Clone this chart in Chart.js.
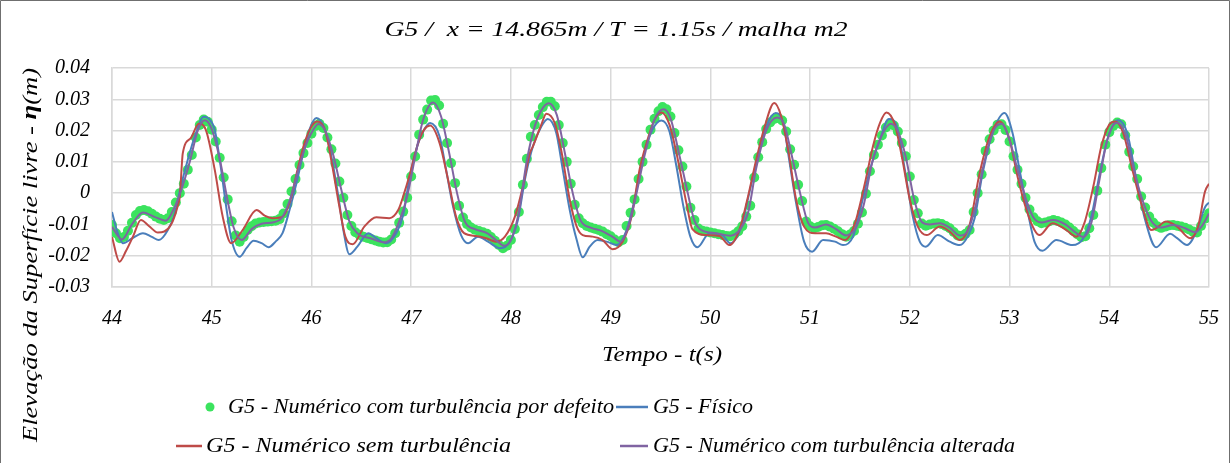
<!DOCTYPE html>
<html><head><meta charset="utf-8">
<script src="https://cdn.jsdelivr.net/npm/chart.js@4.4.1/dist/chart.umd.min.js"></script>
<style>html,body{margin:0;padding:0;background:#fff;}#wrap{position:relative;width:1231px;height:463px;}</style>
</head><body><div id="wrap"><canvas id="c" width="1231" height="463"></canvas></div>
<script>
const titleText = 'G5 /  x = 14.865m / T = 1.15s / malha m2';
const xTitle = 'Tempo - t(s)';
const yTitleParts = ['Elevação da Superfície livre - ', 'η', '(m)'];
const seriesNames = ['G5 - Numérico com turbulência por defeito', 'G5 - Físico', 'G5 - Numérico sem turbulência', 'G5 - Numérico com turbulência alterada'];
const xTicks = [44,45,46,47,48,49,50,51,52,53,54,55];
const yTicks = [0.04,0.03,0.02,0.01,0,-0.01,-0.02,-0.03];
const yTickLabels = ['0.04','0.03','0.02','0.01','0','-0.01','-0.02','-0.03'];

// Numérico com turbulência por defeito (markers, sampled every 0.04 s from 44 s)
const dotStart = 44, dotStep = 0.04;
const defeito = [
-0.0102,-0.0128,-0.0144,-0.0140,-0.0120,-0.0095,-0.0070,-0.0057,-0.0054,-0.0058,-0.0066,-0.0075,-0.0082,-0.0086,-0.0080,-0.0060,-0.0030,0.0000,0.0030,0.0075,0.0122,0.0178,0.0218,0.0235,0.0228,
0.0203,0.0165,0.0113,0.0050,-0.0020,-0.0090,-0.0135,-0.0155,-0.0140,-0.0118,-0.0106,-0.0097,-0.0094,-0.0092,-0.0091,-0.0090,-0.0088,-0.0083,-0.0065,-0.0035,0.0005,0.0045,0.0090,0.0128,0.0160,
0.0190,0.0215,0.0222,0.0208,0.0178,0.0140,0.0095,0.0037,-0.0015,-0.0070,-0.0105,-0.0125,-0.0133,-0.0139,-0.0143,-0.0147,-0.0151,-0.0155,-0.0158,-0.0157,-0.0148,-0.0128,-0.0095,-0.0059,-0.0015,
0.0053,0.0117,0.0187,0.0235,0.0267,0.0296,0.0298,0.0280,0.0222,0.0160,0.0096,0.0032,-0.0040,-0.0078,-0.0099,-0.0110,-0.0117,-0.0121,-0.0125,-0.0130,-0.0140,-0.0152,-0.0166,-0.0176,-0.0168,
-0.0150,-0.0115,-0.0060,0.0027,0.0110,0.0180,0.0218,0.0250,0.0275,0.0292,0.0292,0.0278,0.0218,0.0160,0.0100,0.0030,-0.0037,-0.0080,-0.0096,-0.0105,-0.0110,-0.0114,-0.0118,-0.0123,-0.0131,
-0.0138,-0.0148,-0.0157,-0.0150,-0.0105,-0.0063,-0.0020,0.0045,0.0100,0.0155,0.0203,0.0238,0.0262,0.0275,0.0268,0.0245,0.0192,0.0137,0.0085,0.0021,-0.0047,-0.0086,-0.0113,-0.0120,-0.0123,
-0.0126,-0.0128,-0.0131,-0.0134,-0.0137,-0.0138,-0.0132,-0.0122,-0.0106,-0.0075,-0.0040,0.0050,0.0115,0.0163,0.0205,0.0226,0.0237,0.0240,0.0232,0.0197,0.0140,0.0091,0.0027,-0.0025,-0.0091,
-0.0106,-0.0112,-0.0108,-0.0103,-0.0102,-0.0107,-0.0114,-0.0122,-0.0131,-0.0139,-0.0132,-0.0121,-0.0098,-0.0062,-0.0002,0.0070,0.0122,0.0155,0.0184,0.0210,0.0223,0.0216,0.0197,0.0160,0.0118,
0.0053,-0.0022,-0.0064,-0.0097,-0.0104,-0.0100,-0.0097,-0.0096,-0.0099,-0.0105,-0.0112,-0.0124,-0.0135,-0.0137,-0.0130,-0.0118,-0.0060,0.0000,0.0060,0.0135,0.0172,0.0200,0.0219,0.0220,0.0202,
0.0165,0.0118,0.0075,0.0030,-0.0015,-0.0052,-0.0077,-0.0090,-0.0096,-0.0094,-0.0090,-0.0086,-0.0089,-0.0094,-0.0100,-0.0110,-0.0121,-0.0131,-0.0141,-0.0138,-0.0112,-0.0070,0.0008,0.0080,0.0155,
0.0195,0.0215,0.0226,0.0220,0.0185,0.0132,0.0085,0.0045,-0.0011,-0.0046,-0.0075,-0.0094,-0.0106,-0.0111,-0.0107,-0.0103,-0.0102,-0.0104,-0.0107,-0.0111,-0.0116,-0.0123,-0.0126,-0.0105,-0.0082,
-0.0064];

// Físico
const fisicoT = [44.00,44.05,44.11,44.20,44.31,44.40,44.47,44.56,44.63,44.69,44.76,44.83,44.92,44.97,45.03,45.09,45.145,45.195,45.28,45.35,45.42,45.50,45.57,45.64,45.71,45.78,45.85,45.91,45.98,46.05,46.13,46.20,46.27,46.32,46.38,46.46,46.57,46.65,46.75,46.85,46.92,46.98,47.05,47.12,47.19,47.285,47.35,47.42,47.50,47.57,47.67,47.77,47.89,47.99,48.07,48.14,48.22,48.305,48.37,48.455,48.52,48.59,48.66,48.72,48.79,48.87,48.96,49.06,49.16,49.24,49.32,49.42,49.51,49.59,49.66,49.73,49.80,49.87,49.99,50.12,50.20,50.31,50.39,50.475,50.56,50.655,50.73,50.79,50.86,50.94,51.02,51.13,51.25,51.33,51.43,51.51,51.60,51.70,51.79,51.87,51.95,52.03,52.10,52.16,52.28,52.40,52.50,52.58,52.65,52.73,52.83,52.95,53.03,53.10,53.185,53.25,53.33,53.47,53.63,53.74,53.82,53.905,53.99,54.09,54.18,54.26,54.36,54.47,54.61,54.68,54.78,54.88,54.96,55.00];
const fisicoV = [-0.0060,-0.0120,-0.0160,-0.0145,-0.0128,-0.0140,-0.0150,-0.0118,-0.0064,0.0021,0.0107,0.0181,0.0244,0.0238,0.0203,0.0085,-0.0043,-0.0144,-0.0203,-0.0175,-0.0152,-0.0160,-0.0173,-0.0155,-0.0128,-0.0054,0.0032,0.0117,0.0203,0.0240,0.0208,0.0117,-0.0011,-0.0118,-0.0195,-0.0171,-0.0128,-0.0144,-0.0160,-0.0128,-0.0070,0.0043,0.0139,0.0197,0.0224,0.0181,0.0075,-0.0043,-0.0134,-0.0160,-0.0139,-0.0155,-0.0176,-0.0155,-0.0086,0.0043,0.0149,0.0213,0.0237,0.0192,0.0075,-0.0054,-0.0150,-0.0205,-0.0171,-0.0150,-0.0155,-0.0166,-0.0118,-0.0021,0.0107,0.0203,0.0232,0.0197,0.0085,-0.0043,-0.0140,-0.0173,-0.0128,-0.0134,-0.0160,-0.0107,0.0000,0.0117,0.0213,0.0256,0.0224,0.0107,-0.0032,-0.0155,-0.0187,-0.0150,-0.0155,-0.0166,-0.0139,-0.0043,0.0075,0.0171,0.0237,0.0213,0.0075,-0.0075,-0.0155,-0.0171,-0.0134,-0.0155,-0.0166,-0.0139,-0.0080,0.0064,0.0192,0.0256,0.0192,0.0075,-0.0064,-0.0155,-0.0184,-0.0150,-0.0166,-0.0144,-0.0075,0.0064,0.0181,0.0233,0.0192,0.0064,-0.0086,-0.0173,-0.0130,-0.0144,-0.0166,-0.0118,-0.0045,-0.0030];

// Numérico sem turbulência
const semT = [44.00,44.075,44.14,44.21,44.29,44.37,44.46,44.59,44.66,44.68,44.71,44.79,44.87,44.94,45.03,45.11,45.195,45.31,45.45,45.53,45.61,45.71,45.79,45.86,45.93,46.00,46.06,46.14,46.21,46.28,46.34,46.415,46.53,46.65,46.78,46.87,46.93,46.98,47.07,47.13,47.19,47.285,47.37,47.45,47.53,47.65,47.75,47.85,47.94,48.04,48.12,48.19,48.22,48.305,48.355,48.44,48.51,48.59,48.66,48.72,48.82,48.92,49.02,49.12,49.21,49.29,49.36,49.44,49.51,49.59,49.66,49.76,49.82,49.96,50.09,50.19,50.29,50.37,50.46,50.545,50.64,50.71,50.78,50.86,50.94,51.05,51.16,51.26,51.35,51.45,51.55,51.63,51.70,51.765,51.85,51.92,52.00,52.08,52.17,52.30,52.40,52.50,52.60,52.70,52.80,52.90,53.00,53.08,53.17,53.25,53.30,53.43,53.57,53.67,53.75,53.84,53.92,54.00,54.06,54.14,54.24,54.34,54.42,54.47,54.57,54.68,54.81,54.89,54.96,55.00];
const semV = [-0.0140,-0.0219,-0.0185,-0.0139,-0.0086,-0.0105,-0.0126,-0.0102,-0.0040,-0.0011,0.0128,0.0176,0.0222,0.0203,0.0075,-0.0075,-0.0160,-0.0118,-0.0054,-0.0072,-0.0080,-0.0075,-0.0021,0.0075,0.0160,0.0213,0.0229,0.0197,0.0085,-0.0043,-0.0139,-0.0163,-0.0107,-0.0077,-0.0080,-0.0054,0.0000,0.0053,0.0160,0.0203,0.0216,0.0160,0.0043,-0.0075,-0.0128,-0.0137,-0.0144,-0.0155,-0.0139,-0.0075,0.0021,0.0128,0.0149,0.0219,0.0254,0.0224,0.0128,-0.0021,-0.0107,-0.0134,-0.0139,-0.0150,-0.0179,-0.0155,-0.0075,0.0075,0.0160,0.0235,0.0258,0.0219,0.0128,-0.0032,-0.0115,-0.0134,-0.0137,-0.0166,-0.0118,-0.0021,0.0107,0.0213,0.0288,0.0246,0.0139,-0.0021,-0.0107,-0.0128,-0.0128,-0.0139,-0.0150,-0.0096,0.0032,0.0149,0.0224,0.0258,0.0219,0.0117,-0.0021,-0.0107,-0.0134,-0.0107,-0.0123,-0.0150,-0.0100,0.0064,0.0181,0.0229,0.0171,0.0053,-0.0054,-0.0118,-0.0134,-0.0096,-0.0118,-0.0139,-0.0096,0.0021,0.0149,0.0219,0.0229,0.0192,0.0064,-0.0054,-0.0118,-0.0112,-0.0091,-0.0107,-0.0144,-0.0107,0.0005,0.0030];

// Numérico com turbulência alterada
const altT = [44.00,44.10,44.20,44.31,44.42,44.54,44.62,44.70,44.78,44.86,44.93,45.00,45.08,45.16,45.22,45.30,45.40,45.50,45.62,45.70,45.78,45.86,45.94,46.00,46.07,46.14,46.22,46.30,46.38,46.46,46.60,46.72,46.80,46.88,46.96,47.04,47.12,47.22,47.30,47.38,47.46,47.54,47.64,47.76,47.85,47.93,48.00,48.08,48.16,48.24,48.30,48.38,48.46,48.54,48.62,48.70,48.80,48.92,49.02,49.10,49.18,49.26,49.34,49.44,49.53,49.60,49.68,49.76,49.84,49.92,50.06,50.20,50.30,50.38,50.46,50.56,50.67,50.74,50.82,50.90,50.98,51.05,51.16,51.26,51.36,51.46,51.54,51.62,51.72,51.81,51.88,51.96,52.04,52.12,52.20,52.30,52.40,52.50,52.58,52.66,52.74,52.84,52.92,53.00,53.08,53.16,53.24,53.32,53.44,53.56,53.66,53.74,53.82,53.90,53.98,54.08,54.16,54.24,54.32,54.42,54.52,54.64,54.76,54.86,54.94,55.00];
const altV = [-0.0108,-0.0148,-0.0100,-0.0062,-0.0075,-0.0088,-0.0050,0.0015,0.0100,0.0200,0.0233,0.0205,0.0110,-0.0025,-0.0110,-0.0150,-0.0115,-0.0098,-0.0093,-0.0080,-0.0025,0.0065,0.0150,0.0192,0.0221,0.0198,0.0120,0.0010,-0.0090,-0.0128,-0.0145,-0.0157,-0.0145,-0.0090,-0.0010,0.0117,0.0235,0.0290,0.0245,0.0130,0.0000,-0.0092,-0.0115,-0.0128,-0.0150,-0.0168,-0.0150,-0.0060,0.0105,0.0215,0.0262,0.0287,0.0250,0.0130,0.0000,-0.0088,-0.0110,-0.0122,-0.0140,-0.0155,-0.0105,0.0000,0.0120,0.0235,0.0268,0.0240,0.0135,0.0020,-0.0088,-0.0120,-0.0128,-0.0136,-0.0115,-0.0060,0.0080,0.0200,0.0242,0.0220,0.0115,0.0000,-0.0095,-0.0110,-0.0100,-0.0115,-0.0135,-0.0110,-0.0035,0.0095,0.0185,0.0222,0.0198,0.0115,-0.0015,-0.0092,-0.0100,-0.0096,-0.0110,-0.0135,-0.0120,-0.0040,0.0090,0.0200,0.0222,0.0170,0.0075,-0.0015,-0.0078,-0.0094,-0.0086,-0.0100,-0.0125,-0.0140,-0.0095,0.0040,0.0170,0.0225,0.0190,0.0085,-0.0010,-0.0088,-0.0110,-0.0102,-0.0112,-0.0125,-0.0100,-0.0065];

const colors = {dots:'#3be35e', fisico:'#4a7ebb', sem:'#be4b48', alt:'#8064a2', grid:'#d9d9d9'};
const serif = "'Liberation Serif','DejaVu Serif',serif";

const pair = (ts, vs) => ts.map((t, i) => ({x: t, y: vs[i]}));
const dotData = defeito.map((v, i) => ({x: dotStart + i * dotStep, y: v}));

// draw text stretched horizontally to a target width (reference font is wider)
function wideText(ctx, text, x, y, targetW, align) {
  const w = ctx.measureText(text).width;
  const s = targetW / w;
  ctx.save();
  ctx.translate(x, y);
  ctx.scale(s, 1);
  ctx.textAlign = align;
  ctx.fillText(text, 0, 0);
  ctx.restore();
}

const decor = {
  id: 'decor',
  afterDraw(chart) {
    const ctx = chart.ctx;
    ctx.save();
    // outer frame
    ctx.strokeStyle = '#6f6f6f'; ctx.lineWidth = 1;
    ctx.beginPath(); ctx.moveTo(0.5, 470); ctx.lineTo(0.5, 0.5); ctx.lineTo(1229.5, 0.5); ctx.lineTo(1229.5, 470); ctx.stroke();
    ctx.fillStyle = '#000';
    ctx.textBaseline = 'middle';
    // title
    ctx.font = 'italic 22px ' + serif;
    wideText(ctx, titleText, 616, 30, 463, 'center');
    // y title
    ctx.save();
    ctx.translate(31, 255);
    ctx.rotate(-Math.PI / 2);
    const fN = 'italic 21px ' + serif, fB = 'italic bold 21px ' + serif;
    ctx.font = fN; const w0 = ctx.measureText(yTitleParts[0]).width, w2 = ctx.measureText(yTitleParts[2]).width;
    ctx.font = fB; const w1 = ctx.measureText(yTitleParts[1]).width;
    const tot = w0 + w1 + w2, sc = 374 / tot;
    ctx.scale(sc, 1);
    let x = -tot / 2;
    ctx.textAlign = 'left';
    ctx.font = fN; ctx.fillText(yTitleParts[0], x, 0); x += w0;
    ctx.font = fB; ctx.fillText(yTitleParts[1], x, 0); x += w1;
    ctx.font = fN; ctx.fillText(yTitleParts[2], x, 0);
    ctx.restore();
    // x title
    ctx.font = 'italic 21px ' + serif;
    wideText(ctx, xTitle, 662, 355, 120, 'center');
    // legend
    ctx.font = 'italic 20px ' + serif;
    ctx.fillStyle = colors.dots; ctx.beginPath(); ctx.arc(210, 407, 4.5, 0, Math.PI * 2); ctx.fill();
    ctx.fillStyle = '#000';
    wideText(ctx, seriesNames[0], 228, 408, 386, 'left');
    const seg = (x1, x2, y, c) => { ctx.strokeStyle = c; ctx.lineWidth = 2.5; ctx.beginPath(); ctx.moveTo(x1, y); ctx.lineTo(x2, y); ctx.stroke(); };
    seg(616, 648, 407, colors.fisico); wideText(ctx, seriesNames[1], 653, 408, 100, 'left');
    seg(176, 202, 446, colors.sem); wideText(ctx, seriesNames[2], 206, 447, 305, 'left');
    seg(620, 648, 446, colors.alt); wideText(ctx, seriesNames[3], 653, 447, 362, 'left');
    ctx.restore();
  }
};

new Chart(document.getElementById('c'), {
  type: 'scatter',
  data: {datasets: [
    {label: seriesNames[0], data: dotData, showLine: false, pointRadius: 5, pointHoverRadius: 5, pointBackgroundColor: colors.dots, pointBorderWidth: 0, borderColor: colors.dots, order: 4},
    {label: seriesNames[1], data: pair(fisicoT, fisicoV), showLine: true, pointRadius: 0, borderColor: colors.fisico, borderWidth: 2, cubicInterpolationMode: 'monotone', order: 3},
    {label: seriesNames[2], data: pair(semT, semV), showLine: true, pointRadius: 0, borderColor: colors.sem, borderWidth: 2, cubicInterpolationMode: 'monotone', order: 2},
    {label: seriesNames[3], data: pair(altT, altV), showLine: true, pointRadius: 0, borderColor: colors.alt, borderWidth: 2, cubicInterpolationMode: 'monotone', order: 1}
  ]},
  options: {
    responsive: false, animation: false, devicePixelRatio: 1,
    layout: {padding: {top: 68, left: 0, right: 22, bottom: 136}},
    plugins: {legend: {display: false}, tooltip: {enabled: false}, title: {display: false}},
    scales: {
      x: {type: 'linear', min: 44, max: 55,
        afterBuildTicks: s => { s.ticks = xTicks.map(v => ({value: v})); },
        afterFit: s => { s.height = 40; s.paddingLeft = 0; s.paddingRight = 0; },
        ticks: {color: '#000', font: {family: serif, size: 20, style: 'italic'}, padding: 20, maxRotation: 0, callback: v => String(v)},
        grid: {color: colors.grid, lineWidth: 1.5, drawTicks: false}, border: {color: colors.grid, width: 1.5}},
      y: {min: -0.03, max: 0.04,
        afterBuildTicks: s => { s.ticks = yTicks.map(v => ({value: v})); },
        afterFit: s => { s.width = 112; s.paddingTop = 0; s.paddingBottom = 0; },
        ticks: {color: '#000', font: {family: serif, size: 20, style: 'italic'}, padding: 22, callback: v => { const i = yTicks.findIndex(t => Math.abs(t - v) < 1e-9); return i >= 0 ? yTickLabels[i] : ''; }},
        grid: {color: colors.grid, lineWidth: 1.5, drawTicks: false}, border: {color: colors.grid, width: 1.5}}
    }
  },
  plugins: [decor]
});
</script></body></html>
